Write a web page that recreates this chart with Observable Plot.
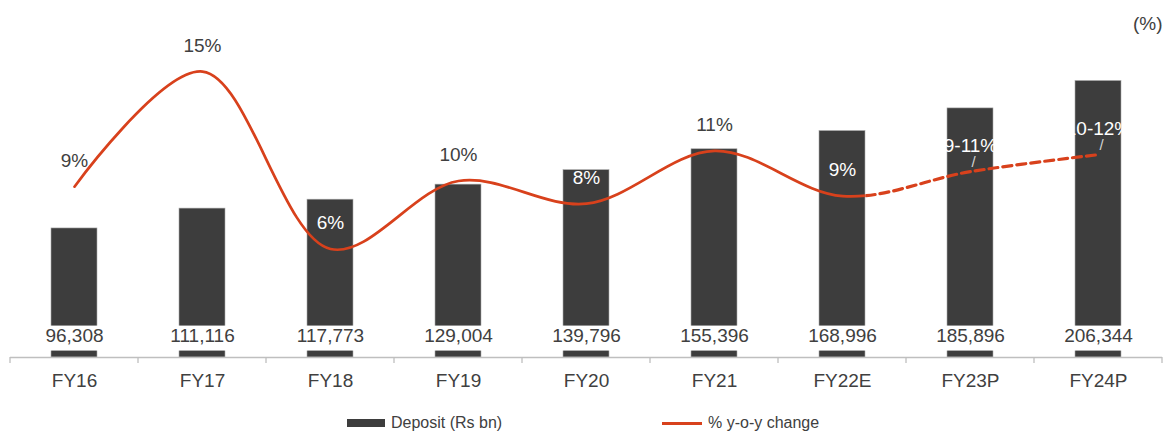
<!DOCTYPE html>
<html><head><meta charset="utf-8">
<script src="https://cdn.jsdelivr.net/npm/d3@7"></script>
<script src="https://cdn.jsdelivr.net/npm/@observablehq/plot@0.6"></script>
<style>
body{margin:0;background:#fff;font-family:"Liberation Sans",Arial,sans-serif;}
#wrap{position:relative;width:1172px;height:433px;overflow:hidden;}
#unit{position:absolute;left:1133px;top:13px;font-size:19px;color:#404040;}
.item{position:absolute;top:413px;height:20px;display:flex;align-items:center;font-size:16px;color:#404040;}
.sw{display:inline-block;margin-right:6px;}
</style></head><body>
<div id="wrap">
  <div id="chart"></div>
  <div id="unit">(%)</div>
  <div class="item" style="left:347px"><span class="sw" style="width:38px;height:8px;background:#3d3d3d"></span>Deposit (Rs bn)</div>
  <div class="item" style="left:662px"><span class="sw" style="width:40px;height:3px;background:#d8411c"></span>% y-o-y change</div>
</div>
<script>
// ---- data ----
const years = ["FY16","FY17","FY18","FY19","FY20","FY21","FY22E","FY23P","FY24P"];
const deposits = [96308,111116,117773,129004,139796,155396,168996,185896,206344];
const yoyChange = [9.3,15.4,6.0,9.6,8.4,11.2,8.8,10.1,11.0];
const yoyLabels = ["9%","15%","6%","10%","8%","11%","9%","9-11%","10-12%"];
const projectedFrom = "FY22E";

// ---- layout ----
const W = 1172, H = 400, MT = 22, MB = 43, ML = 10, MR = 10;
const DEP_MAX = 250000, PCT_MIN = 0.25, PCT_MAX = 18;
const toDep = p => (p - PCT_MIN) / (PCT_MAX - PCT_MIN) * DEP_MAX;
const pxPerUnit = (H - MT - MB) / DEP_MAX;
const LABEL_DY = -26;
const fmt = d3.format(",");

const data = years.map((year, i) => ({
  year, deposit: deposits[i], pct: yoyChange[i], pctY: toDep(yoyChange[i]), pctLabel: yoyLabels[i]
}));
const inside = d => d.pctY + (-LABEL_DY) / pxPerUnit < d.deposit;
const RED = "#d8411c", DARK = "#404040";

const chart = Plot.plot({
  width: W, height: H,
  marginTop: MT, marginBottom: MB, marginLeft: ML, marginRight: MR,
  style: {fontFamily: '"Liberation Sans", Arial, sans-serif', fontSize: "19px", color: DARK, background: "white"},
  x: {domain: years, paddingInner: 0.64, paddingOuter: 0.32, axis: null, label: null},
  y: {domain: [0, DEP_MAX], axis: null, label: null},
  marks: [
    Plot.barY(data, {x: "year", y: "deposit", fill: "#3d3d3d", stroke: "#aaaaaa", strokeWidth: 0.6}),
    Plot.ruleY([0], {stroke: "#bfbfbf", strokeWidth: 1.3}),
    Plot.text(data, {x: "year", y: 0, text: d => fmt(d.deposit), dy: -22, fill: DARK, fontSize: 19}),
    Plot.line(data, {x: "year", y: "pctY", stroke: RED, strokeWidth: 2.7, curve: "catmull-rom"}),
    Plot.line(data, {x: "year", y: "pctY", stroke: RED, strokeWidth: 3.2, strokeDasharray: "9,5", curve: "catmull-rom"}),
    Plot.text(data.filter(d => d.pctLabel.includes("-")), {x: "year", y: "pctY", text: () => "/", dy: -9, dx: 3, fill: "#d4d4d4", fontSize: 15}),
    Plot.text(data, {x: "year", y: "pctY", text: "pctLabel", dy: LABEL_DY, fill: d => inside(d) ? "white" : DARK, fontSize: 19}),
    Plot.axisX({domain: years, tickSize: 0, tickPadding: 16, fontSize: 19, fill: DARK, label: null})
  ]
});
document.getElementById("chart").appendChild(chart);

// ---- post: clip solid/dashed line, label boxes, band-boundary ticks ----
const svg = d3.select(chart);
const xs = chart.scale("x"), ys = chart.scale("y");
const step = xs.apply(years[1]) - xs.apply(years[0]);
const bw = xs.bandwidth;
const cx = xs.apply(projectedFrom) + bw / 2;
const defs = svg.insert("defs", ":first-child");
defs.append("clipPath").attr("id", "clipSolid").append("rect").attr("x", 0).attr("y", 0).attr("width", cx).attr("height", H);
defs.append("clipPath").attr("id", "clipDash").append("rect").attr("x", cx).attr("y", 0).attr("width", W - cx).attr("height", H);
const lines = svg.selectAll("g[aria-label='line']").nodes();
d3.select(lines[0]).attr("clip-path", "url(#clipSolid)");
d3.select(lines[1]).attr("clip-path", "url(#clipDash)");

// white boxes behind deposit value labels
const textGroups = svg.selectAll("g[aria-label='text']").nodes();
const depGroup = textGroups[0];
const boxes = [];
d3.select(depGroup).selectAll("text").each(function() {
  const b = this.getBBox();
  const m = this.getCTM();
  boxes.push({x: b.x + (m ? m.e : 0), y: b.y + (m ? m.f : 0), w: b.width, h: b.height});
});
const bg = svg.insert("g", () => depGroup);
boxes.forEach(b => {
  bg.append("rect").attr("x", b.x - 2).attr("y", b.y + 1).attr("width", b.w + 4).attr("height", b.h + 4).attr("fill", "white");
});

const y0 = ys.apply(0);
const x0 = xs.apply(years[0]) - (step - bw) / 2;
const tg = svg.append("g");
for (let i = 0; i <= years.length; i++) {
  const x = x0 + i * step;
  tg.append("line").attr("x1", x).attr("x2", x).attr("y1", y0).attr("y2", y0 + 6).attr("stroke", "#bfbfbf").attr("stroke-width", 1.3);
}
</script>
</body></html>
